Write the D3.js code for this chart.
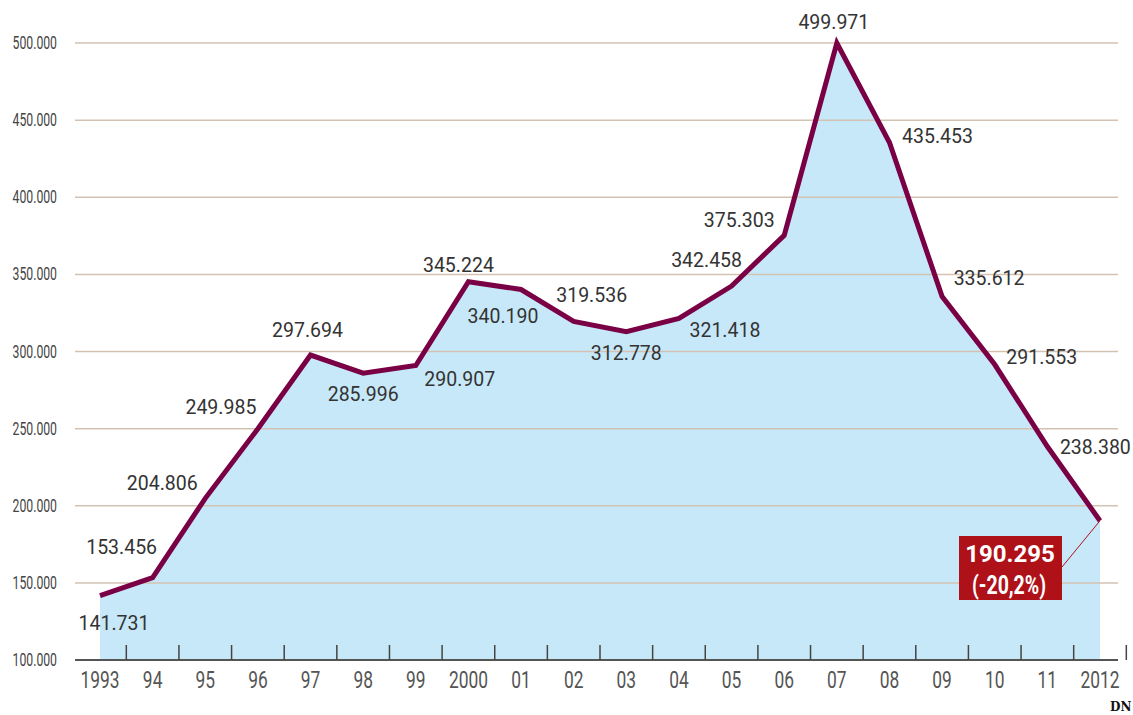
<!doctype html>
<html lang="en">
  <head>
    <meta charset="UTF-8" />
    <title>Line chart 1993-2012</title>
    <style>
      body { margin: 0; background: #fff; }
      svg { display: block; font-family: Roboto, "Noto Sans", sans-serif; }
    </style>
  </head>
  <body>
    <div id="chart"></div>
    <script src="https://cdn.jsdelivr.net/npm/d3@7"></script>
    <script>
      const years = ["1993", "94", "95", "96", "97", "98", "99", "2000", "01", "02",
                     "03", "04", "05", "06", "07", "08", "09", "10", "11", "2012"];
      const values = [141731, 153456, 204806, 249985, 297694, 285996, 290907, 345224, 340190, 319536,
                      312778, 321418, 342458, 375303, 499971, 435453, 335612, 291553, 238380, 190295];
      const yTicks = [100000, 150000, 200000, 250000, 300000, 350000, 400000, 450000, 500000];
      const lastNote = ["190.295", "(-20,2%)"];

      // where each value label sits relative to its point (dx, dy)
      const labelOffsets = [[14, 34], [-31, -24], [-43, -8], [-37, -15], [-3, -18], [0, 28], [44, 20],
                            [-10, -10], [-18, 33], [18, -19], [0, 28], [46, 19], [-25, -19], [-45, -8],
                            [-3, -14], [48, 0], [47, -12], [47, -1], [48, 7]];

      const width = 1133, height = 715;
      const fmt = v => d3.format(",")(v).replace(/,/g, ".");

      const svg = d3.select("#chart").append("svg")
          .attr("width", width)
          .attr("height", height);

      const x = d3.scalePoint().domain(years).range([100, 1100]);
      const y = d3.scaleLinear().domain([100000, 500000]).range([660, 43]);
      const step = x.step();

      // area
      const area = d3.area()
          .x((d, i) => x(years[i]))
          .y0(y(100000))
          .y1(d => y(d));
      svg.append("path")
          .datum(values)
          .attr("d", area)
          .attr("fill", "#c7e8f8");

      // grid lines
      svg.append("g").selectAll("line")
          .data(yTicks.slice(1))
          .enter().append("line")
          .attr("x1", 75).attr("x2", 1118)
          .attr("y1", d => y(d)).attr("y2", d => y(d))
          .attr("stroke", "#d3c2b2")
          .attr("stroke-width", 1.5);

      // y labels (condensed)
      svg.append("g").selectAll("text")
          .data(yTicks)
          .enter().append("text")
          .attr("transform", d => `translate(57, ${y(d) + 6}) scale(0.68, 1)`)
          .attr("text-anchor", "end")
          .attr("font-size", 18)
          .attr("fill", "#444")
          .text(fmt);

      // baseline + ticks between years
      svg.append("line")
          .attr("x1", 75).attr("x2", 1118)
          .attr("y1", y(100000)).attr("y2", y(100000))
          .attr("stroke", "#555").attr("stroke-width", 2);
      svg.append("g").selectAll("line")
          .data(years)
          .enter().append("line")
          .attr("x1", d => x(d) + step / 2).attr("x2", d => x(d) + step / 2)
          .attr("y1", y(100000) - 15).attr("y2", y(100000))
          .attr("stroke", "#444").attr("stroke-width", 1.5);

      svg.append("g").selectAll("text")
          .data(years)
          .enter().append("text")
          .attr("transform", d => `translate(${x(d)}, 688) scale(0.74, 1)`)
          .attr("text-anchor", "middle")
          .attr("font-size", 23.5)
          .attr("fill", "#555")
          .text(d => d);

      // line
      const line = d3.line()
          .x((d, i) => x(years[i]))
          .y(d => y(d));
      svg.append("path")
          .datum(values)
          .attr("d", line)
          .attr("fill", "none")
          .attr("stroke", "#7a0046")
          .attr("stroke-width", 5)
          .attr("stroke-linejoin", "miter");

      // value labels
      svg.append("g").selectAll("text")
          .data(values.slice(0, -1))
          .enter().append("text")
          .attr("x", (d, i) => x(years[i]) + labelOffsets[i][0])
          .attr("y", (d, i) => y(d) + labelOffsets[i][1])
          .attr("text-anchor", "middle")
          .attr("font-size", 19.5)
          .attr("fill", "#333")
          .text(fmt);

      // callout for the last year
      const lx = x(years[years.length - 1]), ly = y(values[values.length - 1]);
      svg.append("line")
          .attr("x1", 1062).attr("y1", 567)
          .attr("x2", lx).attr("y2", ly)
          .attr("stroke", "#b0121b").attr("stroke-width", 1);
      svg.append("rect")
          .attr("x", 959).attr("y", 536)
          .attr("width", 103).attr("height", 64)
          .attr("fill", "#af1119");
      svg.append("text")
          .attr("x", 1010).attr("y", 562)
          .attr("text-anchor", "middle")
          .attr("font-size", 24).attr("font-weight", "bold")
          .attr("fill", "#fff")
          .text(lastNote[0]);
      svg.append("text")
          .attr("transform", "translate(1009, 594) scale(0.78, 1)")
          .attr("text-anchor", "middle")
          .attr("font-size", 25).attr("font-weight", "bold")
          .attr("fill", "#fff")
          .text(lastNote[1]);

      // source mark
      svg.append("text")
          .attr("x", 1110).attr("y", 711)
          .attr("font-family", "'DejaVu Serif', serif")
          .attr("font-size", 12).attr("font-weight", "bold")
          .attr("fill", "#111")
          .text("DN");
    </script>
  </body>
</html>
